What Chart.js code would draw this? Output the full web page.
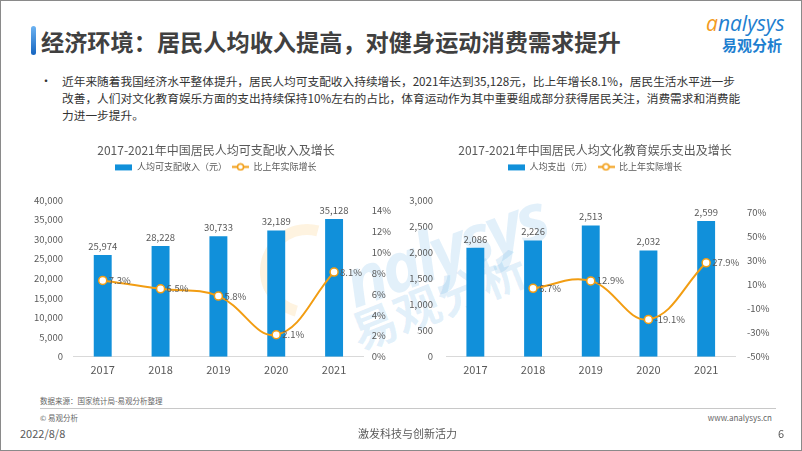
<!DOCTYPE html>
<html>
<head>
<meta charset="utf-8">
<script src="https://cdn.jsdelivr.net/npm/chart.js@4.4.1/dist/chart.umd.min.js"></script>
<style>
  html, body { margin: 0; padding: 0; background: #fff; }
  body { width: 802px; height: 451px; overflow: hidden; font-family: 'Noto Sans CJK SC', sans-serif; }
  .page { position: relative; width: 802px; height: 451px; }
  .frame { position: absolute; left: 0; top: 0; width: 802px; height: 451px; box-sizing: border-box; border: 1px solid #8a8a8a; }
  .abs { position: absolute; white-space: nowrap; }
  .accent { left: 31px; top: 26px; width: 5px; height: 29px; border-radius: 3px; background: linear-gradient(#6db3f2, #1565c0); }
  .title { left: 41px; top: 24px; font-size: 23.2px; font-weight: bold; color: #404040; line-height: 34px; }
  .bullet { left: 40px; top: 72px; font-size: 12px; color: #333; line-height: 17px; }
  .bullet-text { left: 62px; top: 72px; font-size: 11.7px; color: #333; line-height: 17px; }
  .small { font-size: 7.5px; color: #666; line-height: 10px; }
  .foot { font-size: 11px; color: #595959; line-height: 14px; }
  .wm { color: rgba(30, 140, 215, 0.13); font-weight: bold; transform-origin: left top; }
  canvas { position: absolute; }
</style>
</head>
<body>
<div class="page">
  <!-- watermark behind the charts -->
  <div class="abs" style="left:260px; top:224px; width:72px; height:72px; border-radius:50%; border:11px solid rgba(243,160,18,0.13); border-right-color:transparent; border-bottom-color:transparent; transform:rotate(-30deg);"></div>
  <div class="abs wm" style="left:330px; top:240px; font-size:68px; font-style:italic; font-family:'Open Sans', sans-serif; transform:rotate(-20deg); letter-spacing:-4px;">nalysys</div>
  <div class="abs wm" style="left:340px; top:302px; font-size:46px; font-family:'Noto Sans CJK SC', sans-serif; transform:rotate(-22deg);">易观分析</div>

  <div class="abs accent"></div>
  <div class="abs title">经济环境：居民人均收入提高，对健身运动消费需求提升</div>

  <div class="abs" style="left:706px; top:11px; font-size:21px; line-height:24px; font-style:italic; font-family:'Open Sans', sans-serif; color:#1e7fd0;"><span style="color:#f39a1e;">a</span>nalysys</div>
  <div class="abs" style="left:722px; top:36px; font-size:15px; line-height:18px; font-weight:bold; color:#1e7fd0;">易观分析</div>

  <div class="abs bullet">•</div>
  <div class="abs bullet-text">近年来随着我国经济水平整体提升，居民人均可支配收入持续增长，2021年达到35,128元，比上年增长8.1%，居民生活水平进一步<br>改善，人们对文化教育娱乐方面的支出持续保持10%左右的占比，体育运动作为其中重要组成部分获得居民关注，消费需求和消费能<br>力进一步提升。</div>

  <canvas id="incomeChart" width="380" height="260" style="left:26px; top:130px;"></canvas>
  <canvas id="cultureChart" width="390" height="260" style="left:400px; top:130px;"></canvas>

  <div class="abs small" style="left:40px; top:396px;">数据来源：国家统计局-易观分析整理</div>
  <div class="abs" style="left:40px; top:408px; width:736px; height:1px; background:#c8c8c8;"></div>
  <div class="abs small" style="left:40px; top:413px;">© 易观分析</div>
  <div class="abs small" style="right:30px; top:413px; font-size:8px;">www.analysys.cn</div>
  <div class="abs foot" style="left:20px; top:426px;">2022/8/8</div>
  <div class="abs foot" style="left:358px; top:426px;">激发科技与创新活力</div>
  <div class="abs foot" style="left:778px; top:426px;">6</div>
  <div class="frame"></div>
</div>

<script>
// data
const years = ['2017', '2018', '2019', '2020', '2021'];

const incomeValues = [25974, 28228, 30733, 32189, 35128];
const incomeGrowth = [7.3, 6.5, 5.8, 2.1, 8.1];
const incomeTicks = [0, 5000, 10000, 15000, 20000, 25000, 30000, 35000, 40000];
const incomeGrowthTicks = [0, 2, 4, 6, 8, 10, 12, 14];

const cultureValues = [2086, 2226, 2513, 2032, 2599];
const cultureGrowth = [null, 6.7, 12.9, -19.1, 27.9];
const cultureTicks = [0, 500, 1000, 1500, 2000, 2500, 3000];
const cultureGrowthTicks = [-50, -30, -10, 10, 30, 50, 70];

const BAR_COLOR = '#1190da';
const LINE_COLOR = '#f29d12';
const TEXT_COLOR = '#595959';

Chart.defaults.font.family = "'Noto Sans CJK SC', sans-serif";
Chart.defaults.color = TEXT_COLOR;

// small pictures for the legend: a flat bar and a line with a round marker
function legendIcon(kind) {
    const c = document.createElement('canvas');
    c.width = 17;
    c.height = 9;
    const g = c.getContext('2d');
    if (kind === 'bar') {
        g.fillStyle = BAR_COLOR;
        g.fillRect(0, 2, 17, 6);
    } else {
        g.strokeStyle = LINE_COLOR;
        g.lineWidth = 2;
        g.beginPath();
        g.moveTo(0, 4.5);
        g.lineTo(17, 4.5);
        g.stroke();
        g.beginPath();
        g.arc(8.5, 4.5, 3, 0, Math.PI * 2);
        g.fillStyle = '#fff';
        g.fill();
        g.lineWidth = 1.5;
        g.stroke();
    }
    return c;
}

// values above the bars and next to the points
const valueLabels = {
    id: 'valueLabels',
    afterDatasetsDraw(chart) {
        const ctx = chart.ctx;
        ctx.save();
        ctx.font = "9.5px 'Noto Sans CJK SC', sans-serif";
        ctx.fillStyle = TEXT_COLOR;
        chart.data.datasets.forEach((ds, i) => {
            const meta = chart.getDatasetMeta(i);
            meta.data.forEach((el, j) => {
                const v = ds.data[j];
                if (v === null || v === undefined) return;
                if (ds.type === 'bar') {
                    ctx.textAlign = 'center';
                    ctx.textBaseline = 'bottom';
                    ctx.fillText(v.toLocaleString('en-US'), el.x, el.y - 4);
                } else {
                    ctx.textAlign = 'left';
                    ctx.textBaseline = 'middle';
                    ctx.fillText(v.toFixed(1) + '%', el.x + 6, el.y);
                }
            });
        });
        ctx.restore();
    }
};

// leave some room between legend and plot
const legendGap = {
    id: 'legendGap',
    beforeInit(chart) {
        const fit = chart.legend.fit;
        chart.legend.fit = function () {
            fit.call(this);
            this.height += 18.6;
        };
    }
};

function makeChart(id, cfg) {
    const ctx = document.getElementById(id).getContext('2d');
    return new Chart(ctx, {
        type: 'bar',
        data: {
            labels: years,
            datasets: [{
                type: 'bar',
                label: cfg.barLabel,
                data: cfg.bars,
                backgroundColor: BAR_COLOR,
                categoryPercentage: 1,
                barPercentage: 0.31,
                yAxisID: 'y',
                order: 1
            }, {
                type: 'line',
                label: '比上年实际增长',
                data: cfg.growth,
                borderColor: LINE_COLOR,
                borderWidth: 2,
                tension: 0.4,
                pointRadius: 4,
                pointBackgroundColor: '#fff',
                pointBorderColor: LINE_COLOR,
                pointBorderWidth: 1.5,
                yAxisID: 'y1',
                order: 0
            }]
        },
        options: {
            responsive: false,
            animation: false,
            layout: { padding: 0 },
            plugins: {
                tooltip: { enabled: false },
                title: {
                    display: true,
                    text: cfg.title,
                    color: TEXT_COLOR,
                    font: { size: 12, weight: 'normal' },
                    padding: { top: 13, bottom: 0 }
                },
                legend: {
                    display: true,
                    labels: {
                        usePointStyle: true,
                        pointStyleWidth: 17,
                        boxHeight: 9,
                        padding: 5,
                        color: TEXT_COLOR,
                        font: { size: 9 },
                        generateLabels: () => [
                            { text: cfg.barLabel, pointStyle: legendIcon('bar'), fontColor: TEXT_COLOR, lineWidth: 0, hidden: false, datasetIndex: 0 },
                            { text: '比上年实际增长', pointStyle: legendIcon('line'), fontColor: TEXT_COLOR, lineWidth: 0, hidden: false, datasetIndex: 1 }
                        ]
                    }
                }
            },
            scales: {
                x: {
                    grid: { display: false, drawTicks: false },
                    border: { display: true, color: '#d9d9d9', width: 1 },
                    ticks: { color: TEXT_COLOR, font: { size: 11 }, padding: 7 },
                    afterFit: s => { s.height = 33.3; }
                },
                y: {
                    position: 'left',
                    min: cfg.yTicks[0],
                    max: cfg.yTicks[cfg.yTicks.length - 1],
                    grid: { display: false, drawTicks: false },
                    border: { display: false },
                    ticks: {
                        color: TEXT_COLOR,
                        font: { size: 9.5 },
                        padding: cfg.leftPad,
                        callback: v => v.toLocaleString('en-US')
                    },
                    afterBuildTicks: s => { s.ticks = cfg.yTicks.map(v => ({ value: v })); },
                    afterFit: s => { s.width = cfg.leftWidth; }
                },
                y1: {
                    position: 'right',
                    min: cfg.y1Min,
                    max: cfg.y1Max,
                    grid: { display: false, drawTicks: false },
                    border: { display: false },
                    ticks: {
                        color: TEXT_COLOR,
                        font: { size: 9.5 },
                        padding: cfg.rightPad,
                        callback: v => v + '%'
                    },
                    afterBuildTicks: s => { s.ticks = cfg.y1Ticks.map(v => ({ value: v })); },
                    afterFit: s => { s.width = cfg.rightWidth; }
                }
            }
        },
        plugins: [valueLabels, legendGap]
    });
}

makeChart('incomeChart', {
    title: '2017-2021年中国居民人均可支配收入及增长',
    barLabel: '人均可支配收入（元）',
    bars: incomeValues,
    growth: incomeGrowth,
    yTicks: incomeTicks,
    y1Ticks: incomeGrowthTicks,
    y1Min: 0,
    y1Max: 15,
    leftWidth: 47.8,
    rightWidth: 43,
    leftPad: 10.8,
    rightPad: 8.7
});

makeChart('cultureChart', {
    title: '2017-2021年中国居民人均文化教育娱乐支出及增长',
    barLabel: '人均支出（元）',
    bars: cultureValues,
    growth: cultureGrowth,
    yTicks: cultureTicks,
    y1Ticks: cultureGrowthTicks,
    y1Min: -50,
    y1Max: 80,
    leftWidth: 46.5,
    rightWidth: 55,
    leftPad: 13.5,
    rightPad: 12
});
</script>
</body>
</html>
